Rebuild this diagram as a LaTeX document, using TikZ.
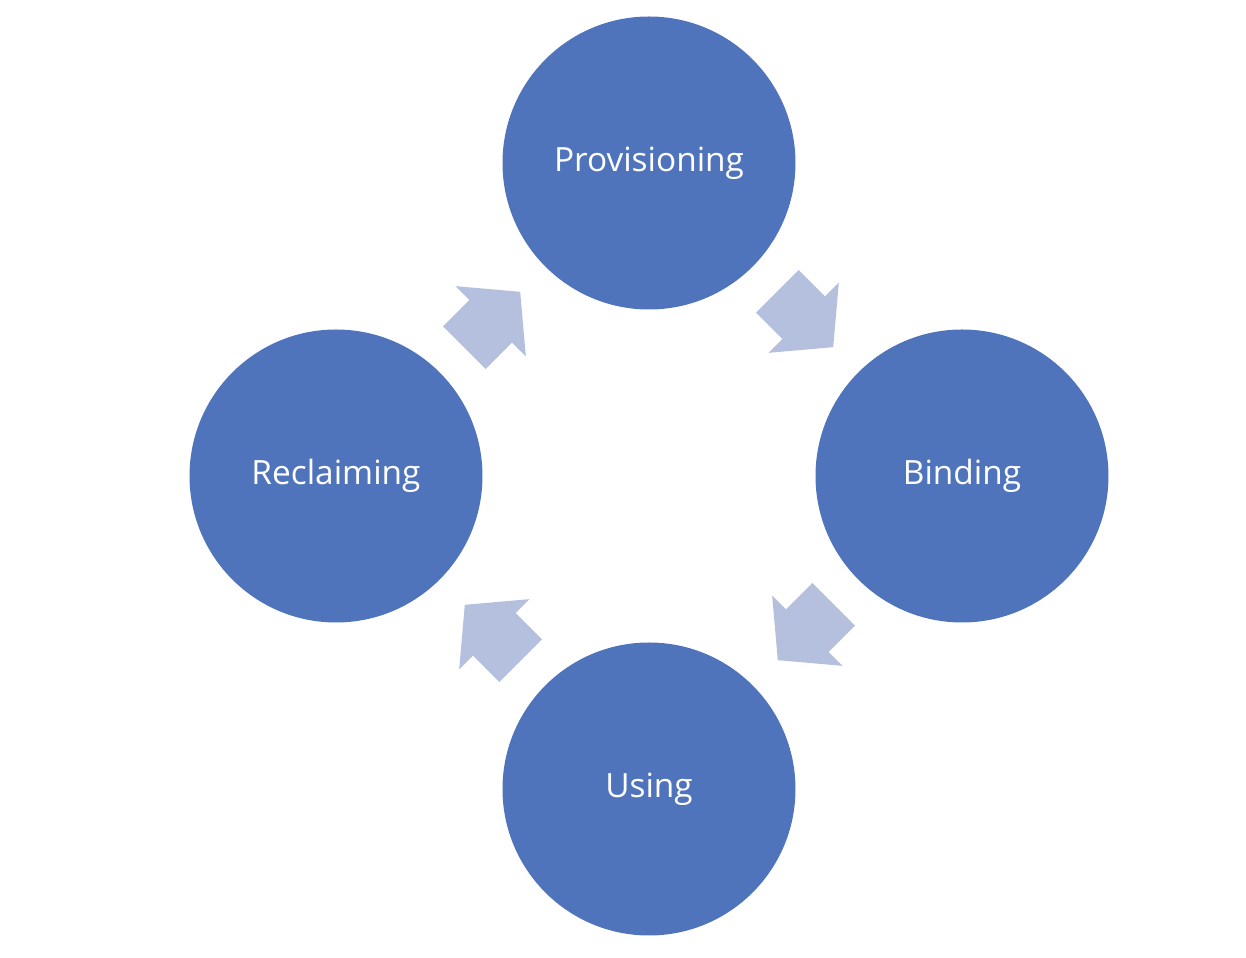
\documentclass[tikz,border=0pt]{standalone}
\usepackage{fontspec}
\setmainfont{Open Sans}
\usetikzlibrary{calc}
\usetikzlibrary{shapes.arrows}
\definecolor{stagecol}{RGB}{79,116,187}
\definecolor{flowcol}{RGB}{180,192,221}
\tikzset{stage/.style={circle,fill=stagecol,text=white,minimum size=2.93cm,inner sep=0pt,font=\fontsize{9.5}{11}\selectfont}}
\tikzset{flow/.style={single arrow,fill=flowcol,draw=none,anchor=tail,minimum height=0.79cm,inner xsep=0pt,inner ysep=0.295cm,single arrow head extend=0.195cm,single arrow tip angle=100,outer sep=0pt}}

\begin{document}
\begin{tikzpicture}
                    \useasboundingbox (0,0) rectangle (12.46,9.58);
                    \node[stage] (prov) at (6.49,7.95) {Provisioning};
                    \node[stage] (bind) at (9.62,4.82) {Binding};
                    \node[stage] (use) at (6.49,1.69) {Using};
                    \node[stage] (recl) at (3.36,4.82) {Reclaiming};

                    \node[flow,rotate=-45] (pb) at ($(prov)!0.41!(bind)$) {};
                    \node[flow,rotate=-135] (bu) at ($(bind)!0.41!(use)$) {};
                    \node[flow,rotate=135] (ur) at ($(use)!0.41!(recl)$) {};
                    \node[flow,rotate=45] (rp) at ($(recl)!0.41!(prov)$) {};

                \end{tikzpicture}
\end{document}
